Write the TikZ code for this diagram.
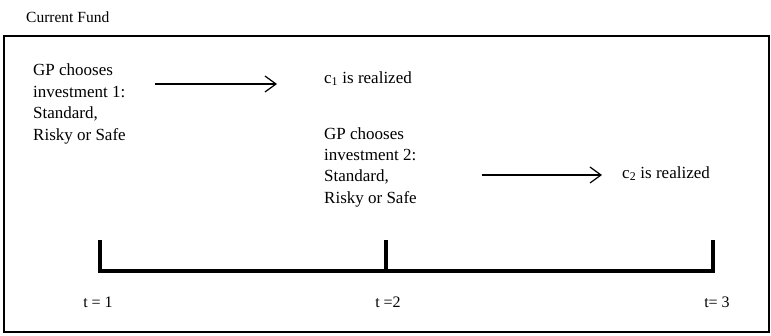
\documentclass[tikz,border=0pt]{standalone}
\usepackage{fontspec}
\setmainfont{Liberation Serif}
\usetikzlibrary{arrows.meta}
\tikzset{
  lbl/.style={inner sep=0pt, anchor=base west, font=\fontsize{17}{21}\selectfont},
  blk/.style={inner sep=0pt, anchor=north west, align=left, font=\fontsize{17}{21.5}\selectfont},
  tlbl/.style={inner sep=0pt, anchor=base, font=\fontsize{16}{18}\selectfont},
  arr/.style={line width=1.2pt, -{Straight Barb[length=11pt,width=16pt,line width=1.2pt]}},
  tl/.style={line width=4pt},
}
\begin{document}
\begin{tikzpicture}[x=1pt,y=-1pt]
\useasboundingbox (0,0) rectangle (771,335);
\node[inner sep=0pt, anchor=base west, font=\fontsize{15.5}{18}\selectfont] (title) at (26,22) {Current Fund};
\draw[line width=1.5pt] (4,36) rectangle (769,332);
\node[blk] (b1) at (33,64) {GP chooses\\investment 1:\\Standard,\\Risky or Safe};
\coordinate (a1s) at (155,84);
\coordinate (a1e) at (277,84);
\draw[arr] (a1s) -- (a1e);
\node[lbl] (c1) at (324,83) {c\textsubscript{1} is realized};
\node[blk] (b2) at (324,127) {GP chooses\\investment 2:\\Standard,\\Risky or Safe};
\coordinate (a2s) at (482,175);
\coordinate (a2e) at (602,175);
\draw[arr] (a2s) -- (a2e);
\node[lbl] (c2) at (622,178) {c\textsubscript{2} is realized};
\coordinate (k1) at (100,240);
\coordinate (k2) at (386,240);
\coordinate (k3) at (713,240);
\coordinate (m1) at (100,271);
\coordinate (m2) at (386,271);
\coordinate (m3) at (713,271);
\draw[tl] (k1) -- (m1) -- (m3) -- (k3);
\draw[tl] (k2) -- (m2);
\node[tlbl] (t1) at (98,307) {t = 1};
\node[tlbl] (t2) at (388,307) {t =2};
\node[tlbl] (t3) at (717,307) {t= 3};
\end{tikzpicture}
\end{document}
